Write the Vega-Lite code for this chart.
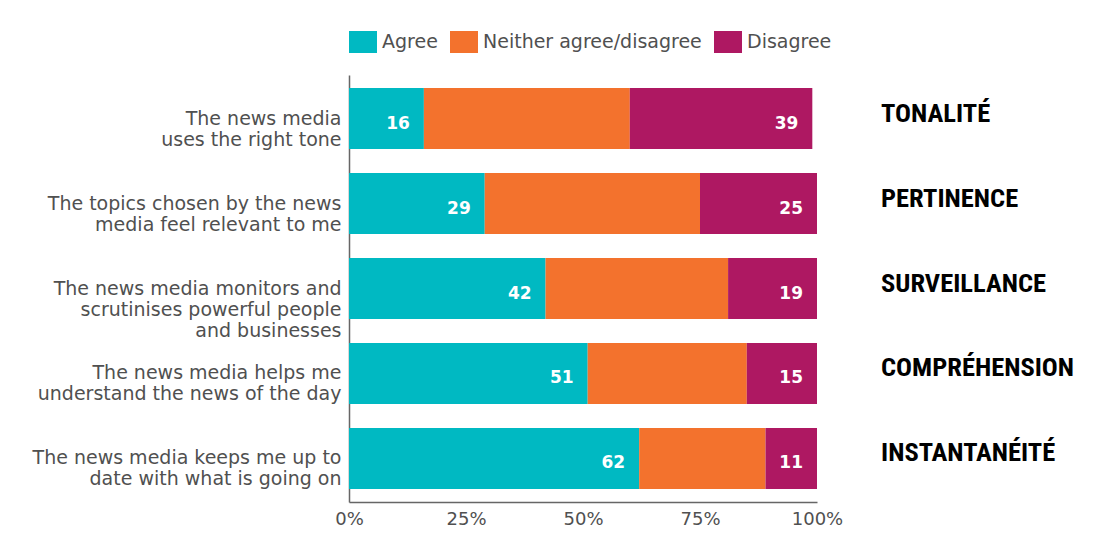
{
  "$schema": "https://vega.github.io/schema/vega-lite/v6.json",
  "width": 468,
  "height": 427,
  "padding": {"left": 8, "top": 31, "right": 5, "bottom": 5},
  "background": "white",
  "config": {"view": {"stroke": null}, "font": "DejaVu Sans"},
  "data": {
    "values": [
      {"statement": "The news media|uses the right tone", "theme": "TONALITÉ", "response": "Agree", "order": 1, "value": 16},
      {"statement": "The news media|uses the right tone", "theme": "TONALITÉ", "response": "Neither agree/disagree", "order": 2, "value": 44},
      {"statement": "The news media|uses the right tone", "theme": "TONALITÉ", "response": "Disagree", "order": 3, "value": 39},
      {"statement": "The topics chosen by the news|media feel relevant to me", "theme": "PERTINENCE", "response": "Agree", "order": 1, "value": 29},
      {"statement": "The topics chosen by the news|media feel relevant to me", "theme": "PERTINENCE", "response": "Neither agree/disagree", "order": 2, "value": 46},
      {"statement": "The topics chosen by the news|media feel relevant to me", "theme": "PERTINENCE", "response": "Disagree", "order": 3, "value": 25},
      {"statement": "The news media monitors and|scrutinises powerful people|and businesses", "theme": "SURVEILLANCE", "response": "Agree", "order": 1, "value": 42},
      {"statement": "The news media monitors and|scrutinises powerful people|and businesses", "theme": "SURVEILLANCE", "response": "Neither agree/disagree", "order": 2, "value": 39},
      {"statement": "The news media monitors and|scrutinises powerful people|and businesses", "theme": "SURVEILLANCE", "response": "Disagree", "order": 3, "value": 19},
      {"statement": "The news media helps me|understand the news of the day", "theme": "COMPRÉHENSION", "response": "Agree", "order": 1, "value": 51},
      {"statement": "The news media helps me|understand the news of the day", "theme": "COMPRÉHENSION", "response": "Neither agree/disagree", "order": 2, "value": 34},
      {"statement": "The news media helps me|understand the news of the day", "theme": "COMPRÉHENSION", "response": "Disagree", "order": 3, "value": 15},
      {"statement": "The news media keeps me up to|date with what is going on", "theme": "INSTANTANÉITÉ", "response": "Agree", "order": 1, "value": 62},
      {"statement": "The news media keeps me up to|date with what is going on", "theme": "INSTANTANÉITÉ", "response": "Neither agree/disagree", "order": 2, "value": 27},
      {"statement": "The news media keeps me up to|date with what is going on", "theme": "INSTANTANÉITÉ", "response": "Disagree", "order": 3, "value": 11}
    ]
  },
  "transform": [
    {"stack": "value", "groupby": ["statement"], "sort": [{"field": "order"}], "as": ["x0", "x1"]}
  ],
  "encoding": {
    "y": {
      "field": "statement",
      "type": "nominal",
      "sort": null,
      "scale": {"paddingInner": 0.2824, "paddingOuter": 0.153},
      "axis": {
        "title": null,
        "ticks": false,
        "labelExpr": "split(datum.label, '|')",
        "labelFont": "DejaVu Sans",
        "labelFontSize": 19,
        "labelColor": "#505050",
        "labelLineHeight": 21,
        "labelPadding": 8,
        "labelLimit": 400,
        "domainColor": "#666666",
        "domainWidth": 1.5,
        "minExtent": 341,
        "maxExtent": 341
      }
    }
  },
  "layer": [
    {
      "mark": {"type": "bar"},
      "encoding": {
        "x": {
          "field": "x0",
          "type": "quantitative",
          "scale": {"domain": [0, 100], "nice": false},
          "axis": {
            "title": null,
            "values": [0, 25, 50, 75, 100],
            "labelExpr": "datum.value + '%'",
            "ticks": false,
            "grid": false,
            "labelFlush": false,
            "labelFont": "DejaVu Sans",
            "labelFontSize": 18,
            "labelColor": "#505050",
            "labelPadding": 8,
            "domainColor": "#666666",
            "domainWidth": 1.5
          }
        },
        "x2": {"field": "x1"},
        "color": {
          "field": "response",
          "type": "nominal",
          "scale": {
            "domain": ["Agree", "Neither agree/disagree", "Disagree"],
            "range": ["#00B9C2", "#F3722D", "#AE1862"]
          },
          "legend": {
            "orient": "top",
            "title": null,
            "direction": "horizontal",
            "symbolType": "M-1,-1H1.545V1H-1Z",
            "symbolSize": 484,
            "symbolStrokeWidth": 0,
            "symbolOpacity": 1,
            "labelFont": "DejaVu Sans",
            "labelFontSize": 19,
            "labelColor": "#505050",
            "labelLimit": 400,
            "labelOffset": 11,
            "columnPadding": 12,
            "offset": 22
          }
        }
      }
    },
    {
      "transform": [{"filter": "datum.response != 'Neither agree/disagree'"}],
      "mark": {"type": "text", "align": "right", "baseline": "middle", "dx": -14, "dy": 5, "color": "white", "font": "DejaVu Sans", "fontWeight": "bold", "fontSize": 17},
      "encoding": {
        "x": {"field": "x1", "type": "quantitative"},
        "text": {"field": "value", "type": "quantitative"}
      }
    },
    {
      "transform": [{"filter": "datum.response == 'Agree'"}],
      "mark": {"type": "text", "align": "left", "baseline": "middle", "dx": 64, "dy": -5, "color": "black", "font": "Roboto Condensed", "fontWeight": "bold", "fontSize": 26.5},
      "encoding": {
        "x": {"datum": 100, "type": "quantitative"},
        "text": {"field": "theme", "type": "nominal"}
      }
    }
  ]
}
